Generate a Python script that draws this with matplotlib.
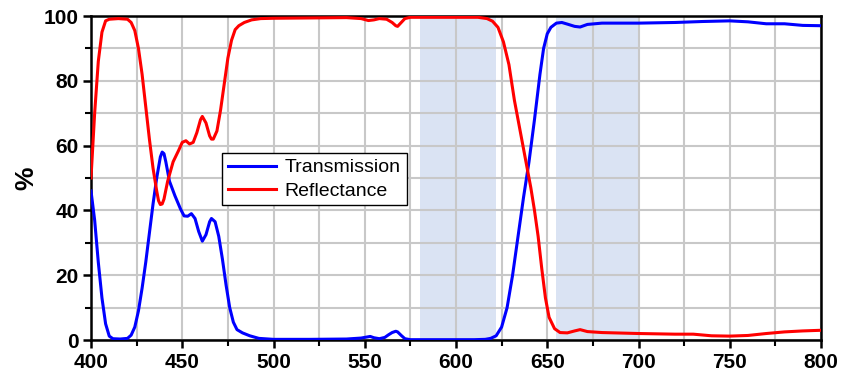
import matplotlib.pyplot as plt
from matplotlib.ticker import MultipleLocator

# wavelength (nm) and values (%)
wl_t = [400, 402, 404, 406, 408, 410, 412, 416, 420, 422, 424, 426, 428, 430, 432, 434,
        436, 438, 439, 440, 441, 443, 446, 449, 451, 453, 455, 457, 459, 461, 463, 465,
        466, 468, 470, 472, 474, 476, 478, 480, 483, 487, 492, 500, 520, 540, 548, 551,
        553, 555, 558, 561, 563, 565, 567, 568, 570, 572, 575, 590, 610, 616, 619, 622,
        625, 628, 631, 634, 637, 640, 643, 646, 648, 650, 652, 655, 658, 661, 665, 668,
        672, 680, 700, 720, 735, 750, 760, 770, 780, 790, 800]
transmission = [46, 37, 24, 13, 5, 1.2, 0.4, 0.3, 0.5, 1.5, 4, 9, 16, 24, 33, 42,
                50, 56.5, 58, 57.5, 55, 49, 44.5, 40.5, 38.3, 38.2, 39, 37.5, 33.5, 30.5, 32.5, 36.5,
                37.5, 36.5, 32, 25, 17, 10, 5.5, 3.2, 2.2, 1.3, 0.5, 0.2, 0.2, 0.3, 0.6, 0.9,
                1.1, 0.7, 0.4, 0.8, 1.6, 2.3, 2.7, 2.5, 1.4, 0.4, 0.1, 0.1, 0.1, 0.2, 0.5, 1.3,
                4, 10, 20, 32, 44, 55, 68, 82, 90, 94.5, 96.5, 97.8, 98, 97.5, 96.8, 96.6,
                97.4, 97.8, 97.8, 98, 98.3, 98.5, 98.2, 97.6, 97.6, 97.1, 97]

wl_r = [400, 402, 404, 406, 408, 410, 415, 420, 422, 424, 426, 428, 430, 432, 434, 436,
        437, 438, 439, 440, 442, 445, 448, 450, 452, 454, 456, 458, 460, 461, 463, 465,
        466, 467, 469, 471, 473, 475, 477, 479, 481, 484, 488, 493, 500, 520, 540, 548,
        552, 555, 558, 562, 565, 567, 568, 570, 572, 575, 590, 612, 617, 620, 623, 626,
        629, 632, 635, 638, 641, 643, 645, 647, 649, 651, 654, 657, 661, 665, 668, 672,
        680, 700, 720, 730, 740, 750, 760, 770, 780, 790, 800]
reflectance = [50, 70, 86, 95, 98.5, 99, 99.2, 99, 98, 95.5, 90, 82, 72, 62, 53, 46,
               43, 41.8, 42, 43.5, 49, 55, 58.5, 61, 61.5, 60.5, 61, 64, 68, 69, 67, 63,
               62, 62, 64.5, 71, 79, 87, 92.5, 95.8, 97, 98, 98.8, 99.2, 99.3, 99.4, 99.5, 99.2,
               98.6, 98.8, 99.2, 99, 98, 97, 96.8, 98, 99.2, 99.6, 99.6, 99.6, 99.2, 98.4, 96.5, 92,
               85, 74, 65, 56, 47, 40, 32, 22, 13, 7, 3.5, 2.3, 2.2, 2.8, 3.2, 2.6,
               2.3, 2, 1.8, 1.8, 1.3, 1.2, 1.4, 2, 2.5, 2.8, 3]

bands = [(580, 622), (655, 700)]

plt.rcParams['font.family'] = ['Liberation Sans', 'DejaVu Sans']

fig = plt.figure(figsize=(8.43, 3.83), dpi=100)
ax = fig.add_axes([91 / 843, 1 - 340 / 383, 730 / 843, 324 / 383])

for lo, hi in bands:
    ax.axvspan(lo, hi, color='#dae3f3', zorder=0, lw=0)

ax.plot(wl_t, transmission, color='#0000ff', lw=2.2, label='Transmission', zorder=3)
ax.plot(wl_r, reflectance, color='#ff0000', lw=2.2, label='Reflectance', zorder=3)

ax.set_xlim(400, 800)
ax.set_ylim(0, 100)
ax.xaxis.set_major_locator(MultipleLocator(50))
ax.xaxis.set_minor_locator(MultipleLocator(25))
ax.yaxis.set_major_locator(MultipleLocator(20))
ax.yaxis.set_minor_locator(MultipleLocator(10))
ax.grid(True, which='both', color='#c8c8c8', lw=1.5, zorder=1)
ax.set_axisbelow(True)

ax.tick_params(which='major', direction='out', length=6, width=1.8, labelsize=15, pad=3)
ax.tick_params(which='minor', direction='out', length=4, width=1.5)
for lab in ax.get_xticklabels() + ax.get_yticklabels():
    lab.set_fontweight('bold')
for s in ax.spines.values():
    s.set_linewidth(1.8)
    s.set_color('black')

ax.set_ylabel('%', fontsize=19, fontweight='bold', labelpad=4)

leg = ax.legend(loc='upper left', bbox_to_anchor=(0.179, 0.577), fontsize=14,
                frameon=True, fancybox=False, edgecolor='black', framealpha=1,
                borderpad=0.3, handlelength=2.5, handletextpad=0.45,
                labelspacing=0.28, borderaxespad=0)
leg.get_frame().set_linewidth(1)

fig.savefig('out.png', dpi=100)
